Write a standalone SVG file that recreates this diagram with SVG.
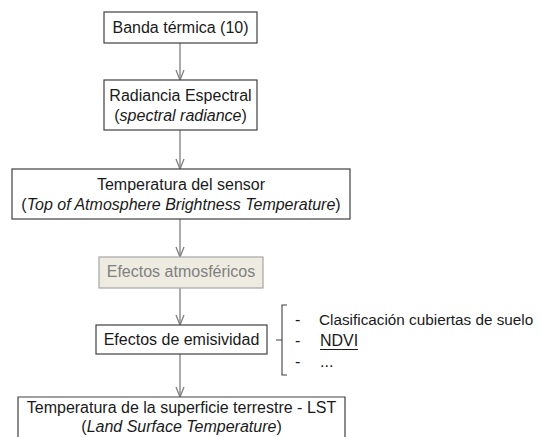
<svg xmlns="http://www.w3.org/2000/svg" width="541" height="437" viewBox="0 0 541 437">
<defs>
<style>
.box{fill:#ffffff;stroke:#404040;stroke-width:1.2}
.gbox{fill:#eeece1;stroke:#a6a6a6;stroke-width:1.2}
.t{font-family:"Liberation Sans",Arial,sans-serif;font-size:16px;fill:#1a1a1a;text-anchor:middle}
.tl{font-family:"Liberation Sans",Arial,sans-serif;font-size:16px;fill:#1a1a1a}
.s{font-size:15.3px}
.g{fill:#7f7f7f}
.i{font-style:italic}
.c{stroke:#7f7f7f;stroke-width:1.3;fill:none}
</style>
<marker id="ah" viewBox="0 0 12 10" refX="11" refY="5" markerWidth="12" markerHeight="10" markerUnits="userSpaceOnUse" orient="auto">
<path d="M1,1 L11,5 L1,9" fill="none" stroke="#7f7f7f" stroke-width="1.3"/>
</marker>
</defs>
<rect width="541" height="437" fill="#ffffff"/>
<g id="connectors">
<line class="c" x1="180" y1="43" x2="180" y2="80" marker-end="url(#ah)"/>
<line class="c" x1="180" y1="130" x2="180" y2="169" marker-end="url(#ah)"/>
<line class="c" x1="180" y1="219" x2="180" y2="257" marker-end="url(#ah)"/>
<line class="c" x1="180" y1="288" x2="180" y2="325" marker-end="url(#ah)"/>
<line class="c" x1="180" y1="354" x2="180" y2="397" marker-end="url(#ah)"/>
</g>
<g id="banda">
<rect class="box" x="104" y="12" width="153" height="31"/>
<text class="t" x="180.5" y="33">Banda térmica (10)</text>
</g>
<g id="radiancia">
<rect class="box" x="104" y="80" width="153" height="50"/>
<text class="t" x="180.5" y="101">Radiancia Espectral</text>
<text class="t" x="180.5" y="121">(<tspan class="i">spectral radiance</tspan>)</text>
</g>
<g id="sensor">
<rect class="box" x="12" y="169" width="338" height="50"/>
<text class="t" x="181" y="190">Temperatura del sensor</text>
<text class="t" x="181" y="210">(<tspan class="i">Top of Atmosphere Brightness Temperature</tspan>)</text>
</g>
<g id="atmosfericos">
<rect class="gbox" x="99" y="257" width="164" height="31"/>
<text class="t g" x="181" y="277">Efectos atmosféricos</text>
</g>
<g id="emisividad">
<rect class="box" x="96" y="325" width="171" height="29"/>
<text class="t" x="181.5" y="345">Efectos de emisividad</text>
</g>
<g id="bracket">
<path d="M287,305 L282,305 L282,375 L287,375 M282,340 L276,340" fill="none" stroke="#404040" stroke-width="1.1"/>
<text class="tl" x="295" y="325">-</text>
<text class="tl s" x="319" y="325">Clasificación cubiertas de suelo</text>
<text class="tl" x="295" y="346">-</text>
<text class="tl" x="320" y="346">NDVI</text>
<line x1="320" y1="349.5" x2="358" y2="349.5" stroke="#1a1a1a" stroke-width="1"/>
<text class="tl" x="295" y="367">-</text>
<text class="tl" x="320" y="367">...</text>
</g>
<g id="lst">
<path class="box" d="M18,438 L18,397 L345,397 L345,438"/>
<text class="t" x="181.5" y="413">Temperatura de la superficie terrestre - LST</text>
<text class="t" x="181.5" y="432">(<tspan class="i">Land Surface Temperature</tspan>)</text>
</g>
</svg>
